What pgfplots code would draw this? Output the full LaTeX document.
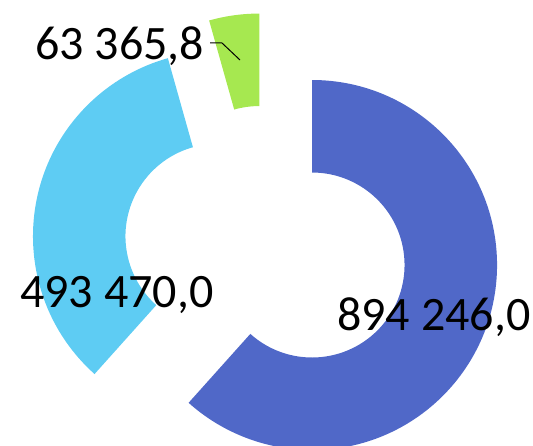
\documentclass[border=0pt]{standalone}
\usepackage{pgfplots}
\pgfplotsset{compat=1.18}
\usepackage{fontspec}
\setmainfont{Carlito}
\definecolor{cA}{RGB}{80,104,200}
\definecolor{cB}{RGB}{94,204,243}
\definecolor{cC}{RGB}{166,232,80}
% data
\def\vA{894246.0}
\def\vB{493470.0}
\def\vC{63365.8}
\edef\tot{\fpeval{\vA+\vB+\vC}}
\edef\aA{\fpeval{360*\vA/\tot}}
\edef\aB{\fpeval{360*\vB/\tot}}
\edef\aC{\fpeval{360*\vC/\tot}}
\edef\sA{90}
\edef\eA{\fpeval{90-\aA}}
\edef\eB{\fpeval{\eA-\aB}}
\edef\eC{\fpeval{\eB-\aC}}
\def\CX{266}\def\CY{197.6}\def\D{49.3}
\edef\cxA{\fpeval{\CX+\D*cosd((\sA+\eA)/2)}}\edef\cyA{\fpeval{\CY+\D*sind((\sA+\eA)/2)}}
\edef\cxB{\fpeval{\CX+\D*cosd((\eA+\eB)/2)}}\edef\cyB{\fpeval{\CY+\D*sind((\eA+\eB)/2)}}
\edef\cxC{\fpeval{\CX+\D*cosd((\eB+\eC)/2)}}\edef\cyC{\fpeval{\CY+\D*sind((\eB+\eC)/2)}}
\begin{document}
\begin{tikzpicture}
\begin{axis}[
  at={(0,0)}, anchor=south west,
  scale only axis, width=533pt, height=445pt,
  xmin=0, xmax=533, ymin=0, ymax=445,
  hide axis, clip=false]
\fill[cA] (axis cs:\cxA,\cyA) ++(\sA:185pt) arc[start angle=\sA,end angle=\eA,radius=185pt]
  -- ++(\eA+180:92.5pt) arc[start angle=\eA,end angle=\sA,radius=92.5pt] -- cycle;
\fill[cB] (axis cs:\cxB,\cyB) ++(\eA:185pt) arc[start angle=\eA,end angle=\eB,radius=185pt]
  -- ++(\eB+180:92.5pt) arc[start angle=\eB,end angle=\eA,radius=92.5pt] -- cycle;
\fill[cC] (axis cs:\cxC,\cyC) ++(\eB:185pt) arc[start angle=\eB,end angle=\eC,radius=185pt]
  -- ++(\eC+180:92.5pt) arc[start angle=\eC,end angle=\eB,radius=92.5pt] -- cycle;
\draw[black, line width=1pt] (axis cs:210,402) -- (axis cs:222,402) -- (axis cs:240,385);
\node[anchor=base west, inner sep=0pt, font=\fontsize{48}{50}\selectfont] at (axis cs:337,115) {894 246,0};
\node[anchor=base west, inner sep=0pt, font=\fontsize{48}{50}\selectfont] at (axis cs:20,137) {493 470,0};
\node[anchor=base west, inner sep=0pt, font=\fontsize{48}{50}\selectfont] at (axis cs:35,385.5) {63 365,8};
\end{axis}
\pgfresetboundingbox
\path (0,0) rectangle (533pt,445pt);
\end{tikzpicture}
\end{document}
